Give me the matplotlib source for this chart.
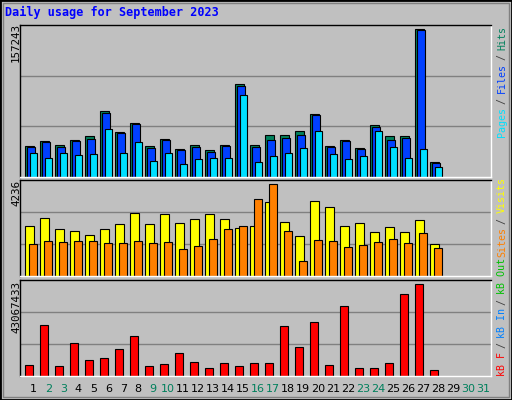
import matplotlib
matplotlib.use("Agg")
import matplotlib.pyplot as plt
from matplotlib.patches import Rectangle
import numpy as np

days = list(range(1, 32))
day_labels = [str(d) for d in days]
weekend = [2, 3, 9, 10, 16, 17, 23, 24, 30, 31]
hits = [32373, 37710, 33441, 38777, 43046, 70083, 47315, 56920, 32373, 40200, 29172, 33441, 28104, 33441,
        98543, 33441, 44113, 44113, 48382, 66525, 32373, 38777, 30239, 54786, 43046, 43046, 157243, 15297]
files = [31306, 36642, 31306, 37710, 39844, 67593, 46248, 55853, 30239, 38777, 28104, 31306, 25970, 32373,
         96408, 31306, 38777, 40911, 44113, 65458, 31306, 37710, 29172, 53363, 38777, 40911, 156174, 14230]
pages = [24903, 19566, 24903, 22768, 23835, 50517, 24903, 36642, 16365, 24903, 13163, 18499, 19566, 19566,
         86803, 15297, 21701, 24903, 30239, 48382, 23835, 18499, 21701, 48382, 31306, 19566, 29172, 9961]
visits = [2302, 2671, 2164, 2072, 1888, 2164, 2395, 2901, 2395, 2855, 2441, 2625, 2855, 2625,
          2210, 2302, 3408, 2487, 1842, 3454, 3177, 2302, 2441, 2026, 2256, 2026, 2579, 1474]
sites = [1474, 1612, 1566, 1612, 1612, 1520, 1520, 1612, 1520, 1566, 1243, 1382, 1704, 2164,
         2302, 3546, 4236, 2072, 691, 1658, 1612, 1335, 1428, 1566, 1704, 1520, 1980, 1289]
kbytes = [4.87e6, 23.73e6, 4.40e6, 15.25e6, 7.23e6, 8.17e6, 12.42e6, 18.55e6, 4.40e6, 5.34e6, 10.53e6, 6.29e6,
          3.46e6, 5.82e6, 4.40e6, 5.82e6, 5.82e6, 23.26e6, 13.36e6, 25.15e6, 4.87e6, 32.69e6, 3.46e6, 3.46e6,
          5.82e6, 38.35e6, 43067433, 2.51e6]

W, H = 512, 400
fig = plt.figure(figsize=(W / 100, H / 100), dpi=100)
fig.patch.set_facecolor("#C0C0C0")

def ax_px(x0, y0, x1, y1):
    return fig.add_axes([x0 / W, 1 - y1 / H, (x1 - x0) / W, (y1 - y0) / H])

GREEN = "#00805C"; BLUE = "#0040FF"; CYAN = "#00E0FF"
YEL = "#FFFF00"; ORG = "#FF8000"; RED = "#FF0000"
xl = (0.113, 31.51)
n = len(hits)
xd = np.arange(1, n + 1)

def style(ax, ymax):
    ax.set_xlim(*xl); ax.set_ylim(0, ymax)
    ax.set_facecolor("#C0C0C0")
    for f in (0.333, 0.666):
        ax.axhline(ymax * f, color="#808080", lw=1, zorder=0)
    ax.set_xticks([]); ax.set_yticks([])
    for s in ax.spines.values():
        s.set_color("black"); s.set_linewidth(1)
    ax.spines["bottom"].set_color("white"); ax.spines["right"].set_color("white")

ax1 = ax_px(20, 25, 491, 176.7)
style(ax1, 161824)
kw = dict(align="edge", edgecolor="black", linewidth=0.8)
ax1.bar(xd - 0.55, hits, 0.6, color=GREEN, **kw)
ax1.bar(xd - 0.45, files, 0.55, color=BLUE, **kw)
ax1.bar(xd - 0.25, pages, 0.48, color=CYAN, **kw)

ax2 = ax_px(20, 180, 491, 276.3)
style(ax2, 4434)
ax2.bar(xd - 0.55, visits, 0.6, color=YEL, **kw)
ax2.bar(xd - 0.27, sites, 0.5, color=ORG, **kw)

ax3 = ax_px(20, 280, 491, 375.7)
style(ax3, 45093000)
ax3.bar(xd - 0.53, kbytes, 0.5, color=RED, **kw)

# title
fig.text(5 / W, 1 - 16 / H, "Daily usage for September 2023", color="#0000FF",
         family="DejaVu Sans Mono", weight="bold", fontsize=8.5, va="baseline")
# y max labels
for txt, y in (("157243", 23), ("4236", 180), ("43067433", 281)):
    fig.text(16 / W, 1 - y / H, txt, rotation=90, ha="center", va="top",
             family="DejaVu Sans Mono", fontsize=7.8, color="black")

# right side legends
fs = 7.2
adv = 5.45
def seg_label(ybottom, parts):
    y = ybottom
    for s, c in parts:
        fig.text(502 / W, 1 - y / H, s, rotation=90, ha="center", va="bottom",
                 family="DejaVu Sans Mono", fontsize=fs, color=c)
        y -= len(s) * adv

seg_label(137, [("Pages", CYAN), (" / ", "#404040"), ("Files", BLUE), (" / ", "#404040"), ("Hits", GREEN)])
seg_label(257, [("Sites", ORG), (" / ", "#404040"), ("Visits", YEL)])
seg_label(376, [("kB F", RED), (" / ", "#404040"), ("kB In", "#0080FF"), (" / ", "#404040"), ("kB Out", "#00C000")])

# day labels
for d, lab in zip(days, day_labels):
    xp = 33.3 + 15 * (d - 1)
    fig.text(xp / W, 1 - 389 / H, lab, ha="center", va="center", fontsize=8,
             color=GREEN if d in weekend else "black", family="DejaVu Sans")

# outer frame
fig.patches.append(Rectangle((0, 0), 1, 1, transform=fig.transFigure, fill=False,
                             edgecolor="black", linewidth=2))
fig.patches.append(Rectangle((3 / W, 3 / H), 1 - 6 / W, 1 - 6 / H, transform=fig.transFigure,
                             fill=False, edgecolor="#808080", linewidth=1))

fig.savefig("out.png", dpi=100, facecolor=fig.get_facecolor())
